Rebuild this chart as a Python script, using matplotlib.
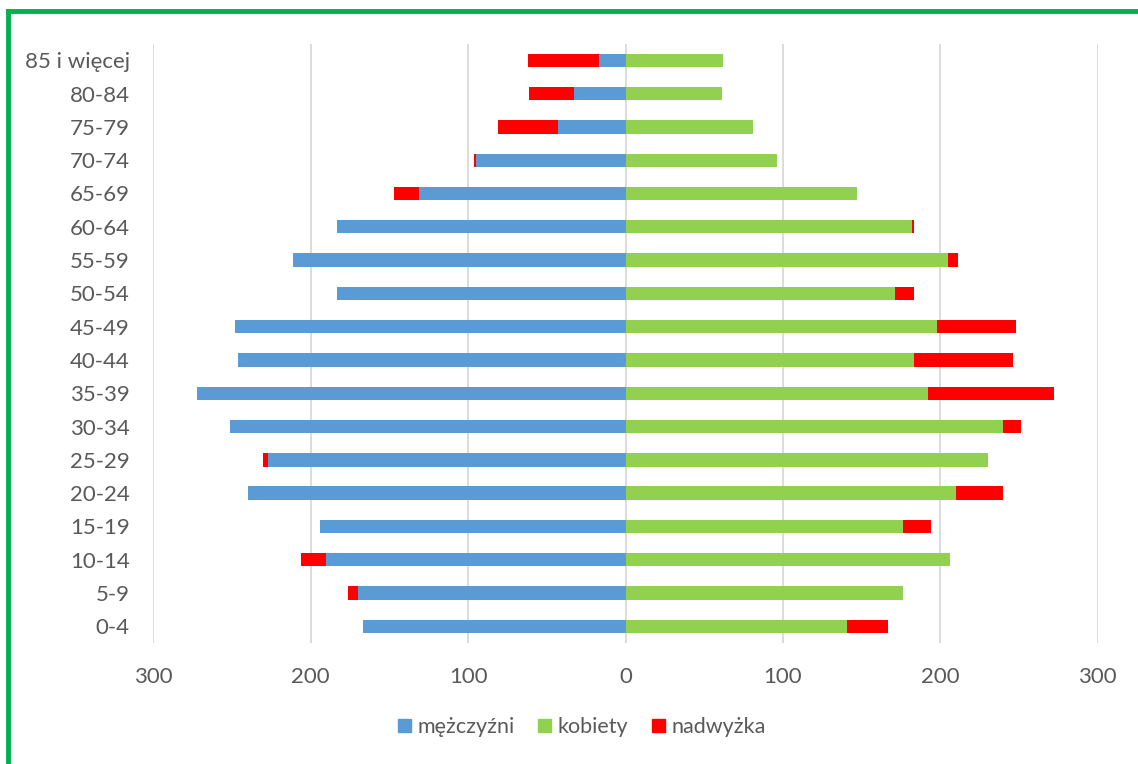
import matplotlib as mpl
mpl.use('Agg')
import matplotlib.pyplot as plt
from matplotlib.lines import Line2D
from matplotlib.patches import Patch

# age groups, top of the chart first
age_groups = ["85 i więcej", "80-84", "75-79", "70-74", "65-69", "60-64", "55-59",
              "50-54", "45-49", "40-44", "35-39", "30-34", "25-29", "20-24",
              "15-19", "10-14", "5-9", "0-4"]
men = [17, 33, 43, 95, 131, 183, 211, 183, 248, 246, 272, 251, 227, 240, 194, 190, 170, 167]
women = [62, 61, 81, 96, 147, 182, 205, 171, 198, 183, 192, 240, 230, 210, 176, 206, 176, 141]
surplus = [45, 28, 38, 1, 16, 1, 6, 12, 50, 63, 80, 11, 3, 30, 18, 16, 6, 26]
xticks = [-300, -200, -100, 0, 100, 200, 300]

c_men = '#5B9BD5'
c_women = '#92D050'
c_surplus = '#FF0000'
c_text = '#595959'
c_grid = '#D9D9D9'

plt.rcParams['font.family'] = ['Lato', 'DejaVu Sans']

def main():
    fig = plt.figure(figsize=(11.38, 7.64), dpi=100)
    ax = fig.add_axes([0.1347, 0.1584, 0.8299, 0.7845])

    n = len(age_groups)
    ypos = [n - 1 - i for i in range(n)]
    h = 0.4

    ax.barh(ypos, [-m for m in men], height=h, color=c_men, zorder=3)
    ax.barh(ypos, women, height=h, color=c_women, zorder=3)
    for y, m, w, s in zip(ypos, men, women, surplus):
        if w > m:
            ax.barh(y, -s, left=-m, height=h, color=c_surplus, zorder=3)
        else:
            ax.barh(y, s, left=w, height=h, color=c_surplus, zorder=3)

    ax.set_xlim(-300, 300)
    ax.set_ylim(-0.5, n - 0.5)
    ax.set_xticks(xticks)
    ax.set_xticklabels([str(abs(t)) for t in xticks])
    ax.set_yticks(ypos)
    ax.set_yticklabels(age_groups)
    ax.tick_params(axis='both', length=0, labelsize=16, colors=c_text)
    ax.tick_params(axis='y', pad=17)
    ax.tick_params(axis='x', pad=17)
    ax.grid(axis='x', color=c_grid, linewidth=1.3, zorder=0)
    for sp in ax.spines.values():
        sp.set_visible(False)

    handles = [Patch(color=c_men, label='mężczyźni'),
               Patch(color=c_women, label='kobiety'),
               Patch(color=c_surplus, label='nadwyżka')]
    fig.legend(handles=handles, loc='center', ncol=3, frameon=False,
               bbox_to_anchor=(582 / 1138, 1 - 727 / 764), fontsize=15.5,
               labelcolor=c_text, handlelength=0.6, handleheight=0.6,
               handletextpad=0.3, columnspacing=1.1)

    # green frame on the top and left edge, like the screenshot
    fig.add_artist(Line2D([8 / 1138, 1], [1 - 11 / 764, 1 - 11 / 764],
                          transform=fig.transFigure, color='#00B050', linewidth=3.5))
    fig.add_artist(Line2D([8 / 1138, 8 / 1138], [0, 1 - 11 / 764],
                          transform=fig.transFigure, color='#00B050', linewidth=3.5))

    fig.savefig('out.png', dpi=100)

if __name__ == '__main__':
    main()
